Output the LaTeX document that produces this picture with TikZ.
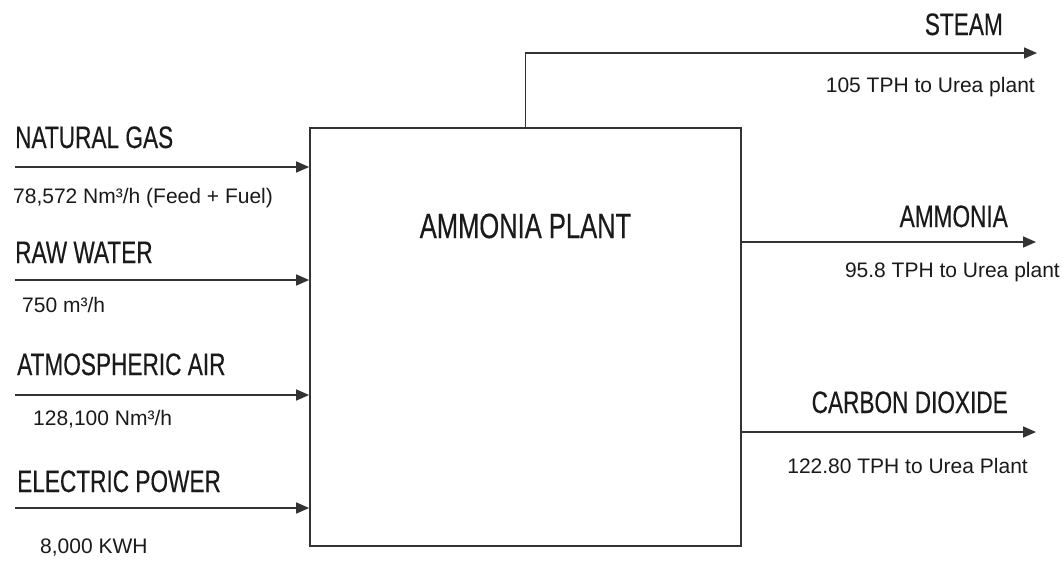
\documentclass[tikz,border=0pt]{standalone}
\usepackage{fontspec}
\setmainfont{Liberation Sans}
\newfontfamily\narrowfont[FakeStretch=0.73,FakeBold=0.3]{Liberation Sans}
\usetikzlibrary{arrows.meta}
\definecolor{ink}{HTML}{1A1A1A}
\definecolor{linegray}{HTML}{333333}
\tikzset{
  flow/.style={draw=linegray, line width=1.6pt, -{Triangle[length=13pt,width=11pt]}},
  plantbox/.style={draw=linegray, line width=1.7pt, minimum width=431pt, minimum height=418pt, inner sep=0pt},
  biglabel/.style={inner sep=0pt, text=ink, font=\narrowfont\fontsize{31}{31}\selectfont},
  titlelabel/.style={inner sep=0pt, text=ink, font=\narrowfont\fontsize{35}{35}\selectfont},
  valuelabel/.style={inner sep=0pt, text=ink, font=\fontsize{21}{21}\selectfont},
}
\begin{document}
\begin{tikzpicture}[x=1pt,y=-1pt]
\useasboundingbox (0,0) rectangle (1062,560);
\fill[white] (0,0) rectangle (1062,560);

% main box
\node[plantbox] (plant) at (525.5,337) {};
\node[titlelabel, anchor=base] (plantlabel) at (525.5,238) {AMMONIA PLANT};

% inputs
\node[biglabel, anchor=base west] (ng) at (15,148) {NATURAL GAS};
\node[valuelabel, anchor=base west] (ngv) at (13,203) {78,572 Nm³/h (Feed + Fuel)};
\node[biglabel, anchor=base west] (rw) at (15,263) {RAW WATER};
\node[valuelabel, anchor=base west] (rwv) at (22,312) {750 m³/h};
\node[biglabel, anchor=base west] (aa) at (17,375) {ATMOSPHERIC AIR};
\node[valuelabel, anchor=base west] (aav) at (33,425) {128,100 Nm³/h};
\node[biglabel, anchor=base west] (ep) at (17,492) {ELECTRIC POWER};
\node[valuelabel, anchor=base west] (epv) at (40,553) {8,000 KWH};

\coordinate (in1) at (15,167);
\coordinate (in2) at (15,280);
\coordinate (in3) at (15,395);
\coordinate (in4) at (15,508);
\draw[flow] (in1) -- (in1 -| plant.west);
\draw[flow] (in2) -- (in2 -| plant.west);
\draw[flow] (in3) -- (in3 -| plant.west);
\draw[flow] (in4) -- (in4 -| plant.west);

% outputs
\node[biglabel, anchor=base east] (st) at (1003,35) {STEAM};
\node[valuelabel, anchor=base east] (stv) at (1035,92) {105 TPH to Urea plant};
\node[biglabel, anchor=base east] (am) at (1008,227) {AMMONIA};
\node[valuelabel, anchor=base east] (amv) at (1060,277) {95.8 TPH to Urea plant};
\node[biglabel, anchor=base east] (co) at (1008,413) {CARBON DIOXIDE};
\node[valuelabel, anchor=base east] (cov) at (1028,473) {122.80 TPH to Urea Plant};

\coordinate (steamend) at (1037,53);
\coordinate (out2) at (1036,242);
\coordinate (out3) at (1036,432);
\draw[flow] (plant.north) |- (steamend);
\draw[flow] (out2 -| plant.east) -- (out2);
\draw[flow] (out3 -| plant.east) -- (out3);
\end{tikzpicture}
\end{document}
